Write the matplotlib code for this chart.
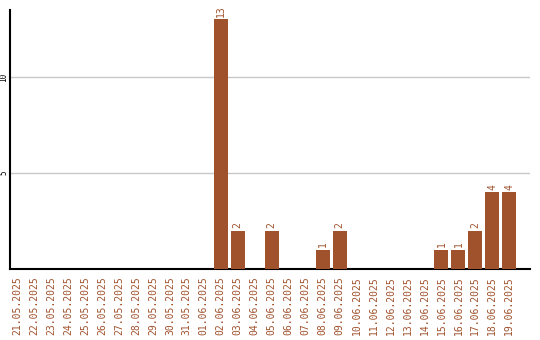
import matplotlib
matplotlib.use("Agg")
from matplotlib import pyplot as plt
import numpy as np

dates = ["21.05.2025", "22.05.2025", "23.05.2025", "24.05.2025", "25.05.2025",
         "26.05.2025", "27.05.2025", "28.05.2025", "29.05.2025", "30.05.2025",
         "31.05.2025", "01.06.2025", "02.06.2025", "03.06.2025", "04.06.2025",
         "05.06.2025", "06.06.2025", "07.06.2025", "08.06.2025", "09.06.2025",
         "10.06.2025", "11.06.2025", "12.06.2025", "13.06.2025", "14.06.2025",
         "15.06.2025", "16.06.2025", "17.06.2025", "18.06.2025", "19.06.2025"]
counts = [0, 0, 0, 0, 0, 0, 0, 0, 0, 0,
          0, 0, 13, 2, 0, 2, 0, 0, 1, 2,
          0, 0, 0, 0, 0, 1, 1, 2, 4, 4]
yticks = [5, 10]

color = '#a0522d'
font = 'DejaVu Sans Mono'

fig = plt.figure(figsize=(5.4, 3.4), dpi=100)
ax = fig.add_axes([10 / 540, 71 / 340, 520 / 540, 259 / 340])

x = np.arange(len(dates))
ax.bar(x, counts, width=0.82, color=color, zorder=3)
for xi, c in zip(x, counts):
    if c > 0:
        ax.text(xi, c + 0.12, str(c), rotation=90, ha='center', va='bottom',
                color=color, fontsize=7, family=font)

ax.set_xlim(-0.42, len(dates) - 1 + 1.22)
ax.set_ylim(0, 13.49)
ax.set_xticks(x)
ax.set_xticklabels(dates, rotation=90, color=color, fontsize=7, family=font)
ax.set_yticks(yticks)
ax.set_yticklabels([str(v) for v in yticks], rotation=90, fontsize=5.5,
                   family=font, va='center')
ax.tick_params(axis='both', length=0)
ax.tick_params(axis='x', pad=5)
ax.tick_params(axis='y', pad=1)
ax.grid(axis='y', color='#c8c8c8', linewidth=1, zorder=0)
ax.spines['top'].set_visible(False)
ax.spines['right'].set_visible(False)
ax.spines['left'].set_linewidth(1.5)
ax.spines['bottom'].set_linewidth(1.5)

fig.savefig('out.png', dpi=100)
